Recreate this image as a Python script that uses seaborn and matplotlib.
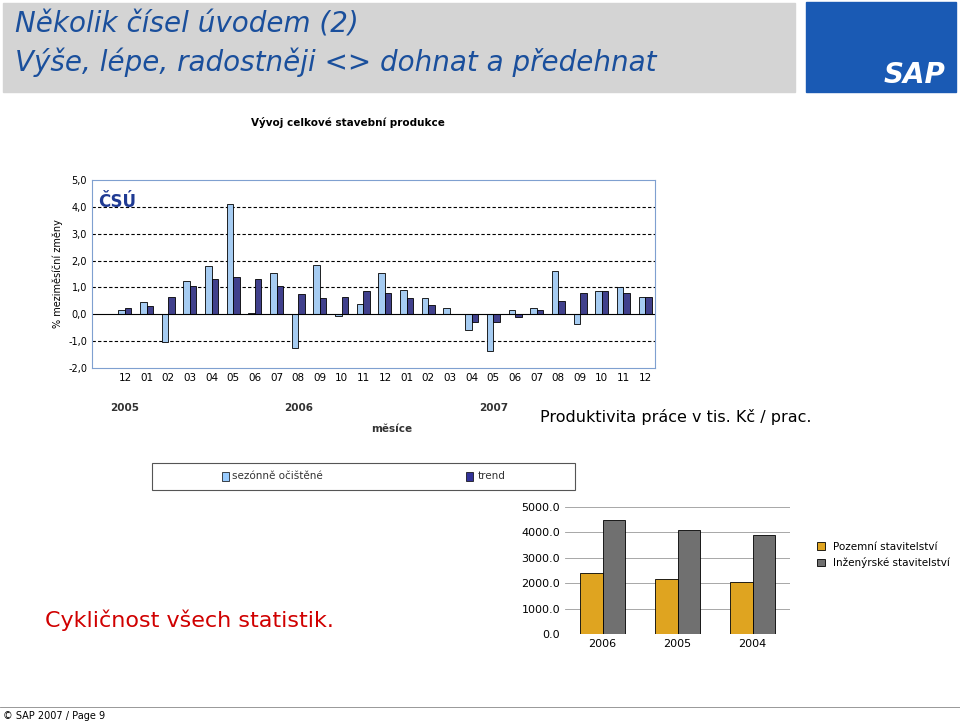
import matplotlib
matplotlib.use("Agg")
import matplotlib.pyplot as plt
import seaborn as sns
import pandas as pd
import numpy as np
from matplotlib.patches import Rectangle

months = ["12","01","02","03","04","05","06","07","08","09","10","11","12",
          "01","02","03","04","05","06","07","08","09","10","11","12"]
seasonal = [0.15,0.45,-1.05,1.25,1.8,4.1,0.03,1.55,-1.25,1.85,-0.05,0.4,1.55,
            0.9,0.6,0.25,-0.6,-1.35,0.15,0.25,1.6,-0.35,0.85,1.0,0.65]
trend = [0.25,0.3,0.65,1.05,1.3,1.4,1.3,1.05,0.75,0.6,0.65,0.85,0.8,
         0.6,0.35,0.02,-0.3,-0.3,-0.1,0.15,0.5,0.8,0.85,0.8,0.65]
years = ["2005","2006","2007"]
year_pos = [0,8,17]
series_names = ["sezónně očištěné","trend"]

prod_years = ["2006","2005","2004"]
pozemni = [2400,2150,2050]
inzenyrske = [4500,4100,3900]

W, H = 960, 723
fig = plt.figure(figsize=(9.6,7.23), dpi=100)

def ax_px(x0,y0,x1,y1):
    return fig.add_axes([x0/W, 1-y1/H, (x1-x0)/W, (y1-y0)/H])

# header
fig.patches.append(Rectangle((3/W,1-92/H),792/W,89/H,transform=fig.transFigure,color="#d4d4d4",zorder=0))
fig.patches.append(Rectangle((806/W,1-92/H),150/W,90/H,transform=fig.transFigure,color="#1a5ab4",zorder=0))
fig.text(915/W,1-75/H,"SAP",fontsize=20,fontweight="bold",style="italic",color="white",ha="center",va="center")
fig.text(15/W,1-25/H,"Několik čísel úvodem (2)",fontsize=20,style="italic",color="#1a4f9c",va="center")
fig.text(15/W,1-62/H,"Výše, lépe, radostněji <> dohnat a předehnat",fontsize=20,style="italic",color="#1a4f9c",va="center")

# main chart
df = pd.DataFrame({"idx":list(range(len(months)))*2,
                   "val":seasonal+trend,
                   "series":[series_names[0]]*len(months)+[series_names[1]]*len(months)})
ax = ax_px(92,180,655,368)
sns.barplot(data=df,x="idx",y="val",hue="series",palette=["#99ccff","#333399"],
            edgecolor="black",linewidth=0.6,width=0.6,ax=ax,legend=False)
ax.set_xlim(-1.52,24.46)
ax.set_ylim(-2,5)
ax.set_yticks(np.arange(-2,5.1,1))
ax.set_yticklabels([f"{v:.1f}".replace(".",",") for v in np.arange(-2,5.1,1)],fontsize=7)
ax.set_xticks(range(len(months)))
ax.set_xticklabels(months,fontsize=7.5)
ax.tick_params(length=0)
ax.set_xlabel(""); ax.set_ylabel("% meziměsíční změny",fontsize=7)
for v in [-1,1,2,3,4]:
    ax.axhline(v,color="black",ls=(0,(3,2)),lw=0.8,zorder=0)
ax.axhline(0,color="black",lw=0.8)
for s in ax.spines.values(): s.set_color("#7fa0d0")
ax.text(0.01,0.93,"ČSÚ",transform=ax.transAxes,fontsize=12,fontweight="bold",color="#1f3a93",va="top")
for i,y in zip(year_pos,years):
    ax.text(i,-3.6,y,ha="center",fontsize=7.5,fontweight="bold",color="#333")
ax.text(12.3,-4.4,"měsíce",ha="center",fontsize=7.5,fontweight="bold",color="#333")
fig.text(348/W,1-122/H,"Vývoj celkové stavební produkce",fontsize=7.5,fontweight="bold",ha="center",va="center")

# legend box
fig.patches.append(Rectangle((152/W,1-490/H),423/W,27/H,transform=fig.transFigure,fill=False,ec="#555",lw=0.8))
fig.patches.append(Rectangle((222/W,1-481/H),7/W,9/H,transform=fig.transFigure,fc="#99ccff",ec="black",lw=0.5))
fig.text(232/W,1-476/H,series_names[0],fontsize=7.5,va="center",color="#333")
fig.patches.append(Rectangle((466/W,1-481/H),7/W,9/H,transform=fig.transFigure,fc="#333399",ec="black",lw=0.5))
fig.text(478/W,1-476/H,series_names[1],fontsize=7.5,va="center",color="#333")

fig.text(540/W,1-417/H,"Produktivita práce v tis. Kč / prac.",fontsize=11.5,va="center")

# second chart
df2 = pd.DataFrame({"rok":prod_years*2,"val":pozemni+inzenyrske,
                    "typ":["Pozemní stavitelství"]*3+["Inženýrské stavitelství"]*3})
ax2 = ax_px(565,507,790,634)
sns.barplot(data=df2,x="rok",y="val",hue="typ",palette=["#ffb000","#707070"],
            edgecolor="black",linewidth=0.6,width=0.6,ax=ax2)
ax2.set_ylim(0,5000)
ax2.set_yticks(range(0,5001,1000))
ax2.set_yticklabels([f"{v:.1f}" for v in range(0,5001,1000)],fontsize=8)
ax2.tick_params(length=0,labelsize=8)
ax2.set_xlabel(""); ax2.set_ylabel("")
ax2.grid(axis="y",color="#999",lw=0.6); ax2.set_axisbelow(True)
for s in ax2.spines.values(): s.set_visible(False)
ax2.legend(loc="upper left",bbox_to_anchor=(1.08,0.8),frameon=False,fontsize=7.5,
           handlelength=0.7,handleheight=0.7)

fig.text(45/W,1-620/H,"Cykličnost všech statistik.",fontsize=16,color="#d00000",va="center")
fig.text(3/W,1-716/H,"© SAP 2007 / Page 9",fontsize=7,va="center")
fig.lines.append(plt.Line2D([0,1],[1-707/H]*2,transform=fig.transFigure,color="#888",lw=0.6))

fig.savefig("out.png",dpi=100)
